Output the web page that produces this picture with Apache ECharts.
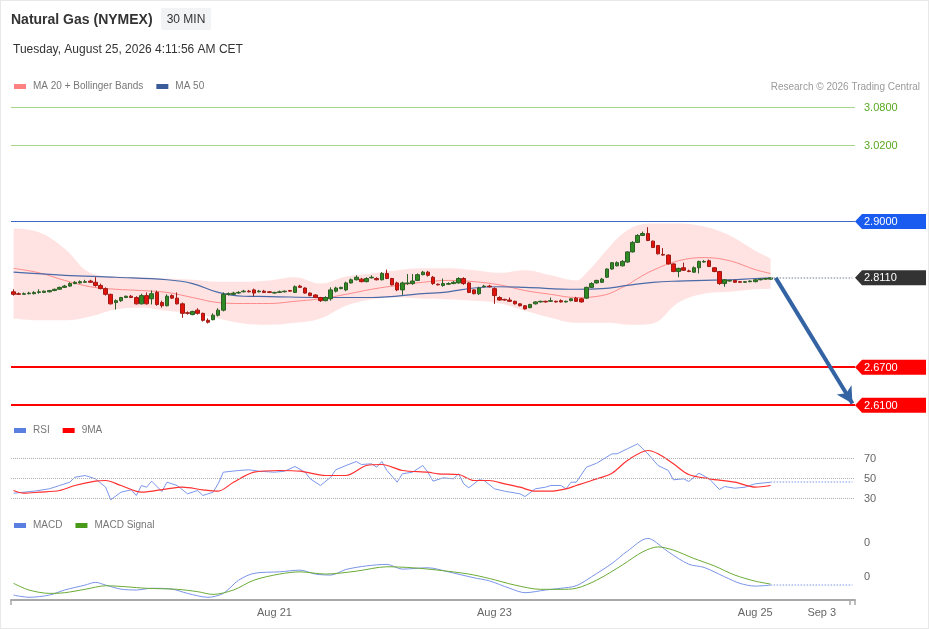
<!DOCTYPE html>
<html><head><meta charset="utf-8">
<script src="https://cdn.jsdelivr.net/npm/echarts@6/dist/echarts.min.js"></script>
<style>html,body{margin:0;padding:0;background:#fff}#c{width:929px;height:629px;box-shadow:inset 0 0 0 1px #e8e8e8}</style>
</head><body><div id="c"></div><script>
const N = 165;
const categories = Array.from({length: N}, (_, i) => String(i));
const xTickIdx = [51, 94, 145, 158];
const xTickText = ['Aug 21', 'Aug 23', 'Aug 25', 'Sep 3'];

const opens = [
2.789,2.786,2.785,2.786,2.786,2.788,2.788,2.789,2.791,2.793,
2.796,2.798,2.802,2.803,2.804,2.806,2.804,2.799,2.794,2.785,
2.772,2.775,2.780,2.782,2.780,2.770,2.783,2.778,2.788,2.772,
2.767,2.783,2.779,2.770,2.756,2.753,2.760,2.755,2.744,2.745,
2.752,2.760,2.785,2.785,2.787,2.789,2.790,2.792,2.789,2.790,
2.789,2.787,2.788,2.789,2.791,2.788,2.798,2.795,2.787,2.784,
2.780,2.775,2.778,2.790,2.794,2.792,2.803,2.808,2.809,2.805,
2.811,2.810,2.808,2.818,2.810,2.803,2.792,2.802,2.802,2.807,
2.816,2.820,2.812,2.801,2.799,2.801,2.802,2.803,2.810,2.803,
2.792,2.786,2.797,2.798,2.794,2.780,2.777,2.776,2.774,2.770,
2.767,2.764,2.770,2.773,2.774,2.774,2.774,2.775,2.773,2.775,
2.779,2.778,2.779,2.796,2.803,2.804,2.812,2.825,2.830,2.830,
2.836,2.852,2.867,2.878,2.881,2.869,2.862,2.848,2.847,2.833,
2.821,2.827,2.822,2.820,2.827,2.836,2.838,2.827,2.821,2.802,
2.806,2.807,2.805,2.804,2.805,2.805,2.808,2.809,2.809];
const closes = [
2.785,2.785,2.786,2.787,2.788,2.789,2.790,2.791,2.793,2.796,
2.798,2.802,2.804,2.805,2.805,2.804,2.799,2.794,2.785,2.770,
2.775,2.780,2.782,2.780,2.770,2.783,2.770,2.786,2.769,2.767,
2.782,2.779,2.770,2.755,2.755,2.758,2.755,2.744,2.741,2.752,
2.760,2.785,2.786,2.787,2.788,2.790,2.789,2.787,2.790,2.788,
2.788,2.788,2.789,2.790,2.790,2.797,2.796,2.787,2.783,2.780,
2.775,2.780,2.792,2.795,2.796,2.803,2.808,2.812,2.805,2.810,
2.812,2.808,2.818,2.810,2.800,2.792,2.803,2.803,2.806,2.816,
2.820,2.815,2.802,2.800,2.802,2.802,2.804,2.810,2.802,2.788,
2.786,2.795,2.798,2.797,2.783,2.776,2.776,2.774,2.770,2.767,
2.762,2.769,2.773,2.774,2.773,2.775,2.773,2.773,2.774,2.778,
2.774,2.773,2.796,2.802,2.807,2.809,2.825,2.835,2.835,2.837,
2.852,2.867,2.878,2.881,2.870,2.859,2.849,2.847,2.833,2.821,
2.826,2.823,2.821,2.827,2.837,2.837,2.829,2.821,2.802,2.808,
2.807,2.804,2.804,2.805,2.806,2.808,2.809,2.810,2.811];
const highs = [
2.793,2.788,2.788,2.789,2.790,2.793,2.791,2.792,2.794,2.797,
2.800,2.804,2.806,2.807,2.808,2.808,2.812,2.802,2.796,2.786,
2.777,2.781,2.783,2.784,2.782,2.786,2.788,2.791,2.791,2.775,
2.785,2.785,2.788,2.772,2.758,2.759,2.763,2.756,2.747,2.755,
2.763,2.788,2.788,2.789,2.790,2.792,2.792,2.794,2.792,2.792,
2.790,2.789,2.791,2.791,2.792,2.799,2.800,2.796,2.788,2.785,
2.781,2.782,2.796,2.797,2.797,2.805,2.810,2.815,2.811,2.812,
2.815,2.812,2.820,2.824,2.811,2.805,2.805,2.817,2.817,2.818,
2.822,2.822,2.814,2.802,2.810,2.804,2.806,2.812,2.812,2.804,
2.793,2.797,2.800,2.800,2.796,2.782,2.778,2.780,2.775,2.771,
2.768,2.770,2.774,2.775,2.775,2.780,2.775,2.777,2.775,2.779,
2.781,2.779,2.797,2.804,2.808,2.811,2.826,2.836,2.837,2.839,
2.853,2.869,2.880,2.884,2.891,2.870,2.863,2.858,2.848,2.834,
2.827,2.835,2.824,2.829,2.838,2.839,2.840,2.828,2.822,2.809,
2.808,2.808,2.806,2.806,2.807,2.809,2.810,2.811,2.812];
const lows = [
2.783,2.784,2.785,2.785,2.785,2.786,2.787,2.788,2.790,2.792,
2.795,2.797,2.801,2.802,2.803,2.803,2.797,2.793,2.783,2.769,
2.761,2.773,2.779,2.779,2.769,2.769,2.769,2.769,2.767,2.764,
2.766,2.778,2.769,2.748,2.753,2.752,2.753,2.742,2.739,2.744,
2.750,2.758,2.783,2.784,2.786,2.788,2.788,2.782,2.788,2.787,
2.787,2.786,2.787,2.788,2.789,2.787,2.795,2.786,2.782,2.779,
2.773,2.774,2.775,2.788,2.793,2.790,2.802,2.807,2.804,2.804,
2.810,2.807,2.807,2.809,2.799,2.790,2.784,2.800,2.800,2.806,
2.815,2.813,2.800,2.799,2.797,2.800,2.801,2.802,2.800,2.787,
2.785,2.784,2.796,2.796,2.770,2.775,2.775,2.773,2.769,2.766,
2.761,2.763,2.769,2.772,2.772,2.773,2.772,2.772,2.772,2.774,
2.773,2.772,2.778,2.795,2.802,2.803,2.811,2.824,2.829,2.829,
2.835,2.851,2.866,2.877,2.869,2.858,2.848,2.846,2.832,2.820,
2.812,2.822,2.820,2.819,2.818,2.835,2.828,2.820,2.800,2.797,
2.805,2.803,2.803,2.803,2.804,2.804,2.807,2.808,2.808];

const bbIdx   = [0,5,10,15,20,25,30,35,40,45,50,55,60,65,70,75,80,85,90,95,100,105,110,112,115,118,120,122,125,130,135,140,145,148];
const bbUpper = [2.889,2.883,2.857,2.819,2.813,2.812,2.810,2.808,2.805,2.805,2.807,2.812,2.802,2.813,2.818,2.823,2.826,2.826,2.823,2.819,2.823,2.815,2.807,2.819,2.846,2.873,2.886,2.894,2.897,2.897,2.892,2.878,2.854,2.842];
const bbLower = [2.747,2.744,2.744,2.750,2.761,2.764,2.759,2.755,2.747,2.739,2.737,2.740,2.747,2.767,2.777,2.780,2.778,2.777,2.775,2.771,2.759,2.748,2.740,2.740,2.740,2.739,2.737,2.737,2.739,2.772,2.786,2.789,2.793,2.794];

const ma20Idx = [0,5,10,15,20,25,30,35,40,45,50,55,60,65,70,75,80,85,90,95,100,105,110,115,120,122,125,130,135,140,145,148];
const ma20    = [2.826,2.819,2.807,2.797,2.793,2.791,2.788,2.780,2.772,2.7705,2.7705,2.774,2.778,2.785,2.793,2.799,2.804,2.807,2.805,2.800,2.791,2.785,2.780,2.783,2.800,2.810,2.823,2.838,2.843,2.838,2.824,2.818];

const ma50Idx = [0,10,20,30,35,40,45,50,60,70,80,85,90,95,100,110,115,120,125,130,135,140,145,148];
const ma50    = [2.820,2.815,2.812,2.808,2.802,2.788,2.782,2.7815,2.780,2.780,2.786,2.789,2.795,2.797,2.796,2.793,2.794,2.799,2.804,2.806,2.807,2.808,2.810,2.811];

const rsiIdx = [0,4,7,9,11,12,14,16,18,19,21,23,24,25,26,27,29,30,32,34,36,37,39,40,41,44,46,48,51,53,55,57,58,60,62,63,65,67,68,70,71,72,73,75,76,78,80,81,82,84,86,87,88,89,91,92,94,96,99,100,102,104,105,107,108,109,110,112,114,117,118,120,122,124,126,128,129,131,132,134,136,138,139,141,143,145,148];
const rsi    = [35.3,37.3,39.7,43,46.3,51.3,53,49.7,41.3,28.7,36.3,38.7,33,43,41.3,47.3,37,46.3,43,34.7,38,33,36.3,44.7,56.3,58,58.7,57.3,56.3,57.3,62,56.3,49.7,43,51.3,58.7,63,67,64,64.7,61.3,67,58,46.3,54.7,56.3,63,56.3,47.3,50.7,49.7,54.7,44.7,40.7,48.7,48,39.7,37.3,34.7,32,39.7,41.3,43,43,39.7,46.3,46.3,61.3,65.3,74.7,74.7,79.7,84.7,74.7,63,58,48.7,49.7,47,55.3,49.7,39,42,40.3,41.3,44.7,46.3];

const rsiMaIdx = [0,2,5,9,12,16,18,21,25,30,33,37,40,43,47,52,56,61,65,69,72,76,81,83,87,90,93,96,99,102,105,108,110,113,117,120,124,126,129,132,136,141,145,148];
const rsiMa    = [38,35.3,36.3,38,43,47.3,48,43,36.3,39.7,41.3,38.7,37.3,46.3,56.3,58,57.3,53,53,63,64,58,56.3,54.7,54,48,48,44.7,41.3,37.3,37.3,39.7,43,48,55.3,68,78,74.7,64.7,54,49.7,46.3,41.3,43];

const macdIdx = [0,3,7,10,14,16,18,21,24,27,31,34,38,41,44,47,52,56,59,62,65,69,73,76,81,85,90,93,97,100,104,107,110,113,117,120,124,125,128,132,135,139,142,145,148];
const macd    = [-0.0106,-0.0119,-0.0106,-0.0076,-0.0047,-0.0031,-0.0047,-0.0071,-0.0076,-0.0066,-0.0071,-0.0096,-0.0119,-0.0096,-0.0018,0.0022,0.0031,0.0041,0.0018,0.0012,0.0045,0.0066,0.0075,0.0047,0.0055,0.0031,-0.0004,-0.0022,-0.0066,-0.0092,-0.0076,-0.0066,-0.0051,0.0002,0.0081,0.0153,0.0228,0.0218,0.0149,0.0076,0.0057,0.0002,-0.0037,-0.0053,-0.0047];

const sigIdx = [0,3,7,10,14,18,22,26,32,36,39,43,47,52,56,61,67,73,78,83,89,93,98,103,107,110,114,119,123,126,129,133,137,141,145,148];
const sig    = [-0.0037,-0.0076,-0.0096,-0.0092,-0.0072,-0.0051,-0.0057,-0.0066,-0.0072,-0.0086,-0.0102,-0.0076,-0.0018,0.0018,0.0031,0.0018,0.0035,0.0061,0.0055,0.0041,0.0018,-0.0008,-0.0047,-0.0072,-0.0072,-0.0066,-0.0018,0.0071,0.0149,0.0178,0.0159,0.0110,0.0066,0.0012,-0.0024,-0.0041];

const levelR2 = 3.08, levelR1 = 3.02, levelPivot = 2.90, lastPrice = 2.811, levelS1 = 2.67, levelS2 = 2.61;
const arrowTarget = 2.6126;

const FONT = '"Liberation Sans", Arial, sans-serif';
const pairs = (ix, v) => ix.map((x, k) => [x, v[k]]);
const lastIdx = opens.length - 1;

const chart = echarts.init(document.getElementById('c'));
const legendBase = {icon: 'rect', itemWidth: 12, itemHeight: 5, itemGap: 13, padding: 0, selectedMode: false,
  textStyle: {color: '#777', fontSize: 10, fontFamily: FONT, padding: [0, 0, 0, 2]}};

const option = {
  animation: false,
  textStyle: {fontFamily: FONT},
  legend: [
    Object.assign({left: 14, top: 81.5, data: ['MA 20 + Bollinger Bands', 'MA 50']}, legendBase),
    Object.assign({left: 14, top: 425.5, data: ['RSI', '9MA']}, legendBase),
    Object.assign({left: 14, top: 520.5, data: ['MACD', 'MACD Signal']}, legendBase)
  ],
  grid: [
    {left: 11, right: 74, top: 101.17, height: 310.33},
    {left: 11, right: 74, top: 438.5, height: 80},
    {left: 11, right: 74, top: 533, height: 67}
  ],
  xAxis: [
    {type: 'category', gridIndex: 0, data: categories, show: false},
    {type: 'category', gridIndex: 1, data: categories, show: false},
    {type: 'category', gridIndex: 2, data: categories,
      axisLine: {onZero: false, lineStyle: {color: '#a8a8a8', width: 2}},
      axisTick: {show: true, length: 5, lineStyle: {color: '#a8a8a8', width: 1.5}, interval: (i) => i === 0 || i === N - 1},
      axisLabel: {color: '#666', fontSize: 11, margin: 7,
        interval: (i) => xTickIdx.indexOf(i) >= 0,
        formatter: (v, i) => { const k = xTickIdx.indexOf(+v); return k >= 0 ? xTickText[k] : ''; }}}
  ],
  yAxis: [
    {type: 'value', gridIndex: 0, min: 2.60, max: 3.09, show: false},
    {type: 'value', gridIndex: 1, min: 10, max: 90, position: 'right',
      axisLine: {show: false}, axisTick: {show: false}, splitLine: {show: false},
      axisLabel: {customValues: [30, 50, 70], color: '#666', fontSize: 11, margin: 9}},
    {type: 'value', gridIndex: 2, min: -0.0135, max: 0.026, position: 'right',
      axisLine: {show: false}, axisTick: {show: false}, splitLine: {show: false},
      axisLabel: {customValues: [0, 0.02], formatter: () => '0', color: '#666', fontSize: 11, margin: 9}}
  ],
  series: [
    {type: 'line', name: 'bbLow', xAxisIndex: 0, yAxisIndex: 0, stack: 'bb', smooth: 0.4, symbol: 'none', silent: true,
      data: pairs(bbIdx, bbLower), lineStyle: {opacity: 0}, z: 1},
    {type: 'line', name: 'bbBand', xAxisIndex: 0, yAxisIndex: 0, stack: 'bb', smooth: 0.4, symbol: 'none', silent: true,
      data: bbIdx.map((x, k) => [x, +(bbUpper[k] - bbLower[k]).toFixed(4)]),
      lineStyle: {opacity: 0}, areaStyle: {color: '#ffe3e3', opacity: 1}, z: 1},
    {type: 'line', name: 'MA 20 + Bollinger Bands', xAxisIndex: 0, yAxisIndex: 0, smooth: 0.4, symbol: 'none',
      data: pairs(ma20Idx, ma20), itemStyle: {color: '#ff8080'}, lineStyle: {color: '#ff8a8a', width: 1}, z: 2},
    {type: 'line', name: 'MA 50', xAxisIndex: 0, yAxisIndex: 0, smooth: 0.4, symbol: 'none',
      data: pairs(ma50Idx, ma50), itemStyle: {color: '#3a5a9a'}, lineStyle: {color: '#4a6aa8', width: 1.2}, z: 2},
    {type: 'candlestick', name: 'price', xAxisIndex: 0, yAxisIndex: 0, barWidth: 4, z: 3,
      data: opens.map((o, i) => [o, closes[i], lows[i], highs[i]]),
      itemStyle: {color: '#2f8a24', color0: '#e3120b', borderColor: '#2d5e25', borderColor0: '#9e1b15', borderWidth: 1},
      markLine: {silent: true, symbol: 'none', label: {show: false},
        data: [
          {yAxis: levelR2, lineStyle: {color: '#a9d48c', width: 1, type: 'solid'}},
          {yAxis: levelR1, lineStyle: {color: '#a9d48c', width: 1, type: 'solid'}},
          {yAxis: levelPivot, lineStyle: {color: '#3f68c8', width: 1, type: 'solid'}},
          {yAxis: levelS1, lineStyle: {color: '#ff0000', width: 2, type: 'solid'}},
          {yAxis: levelS2, lineStyle: {color: '#ff0000', width: 2, type: 'solid'}},
          [{coord: [lastIdx, lastPrice]}, {coord: [N - 1, lastPrice]}],
          [{coord: [lastIdx + 1, lastPrice], symbol: 'none'},
           {coord: [N - 1, arrowTarget], symbol: 'arrow', symbolSize: [13, 16]}]
        ].map((d, k) => k === 5 ? d.map(p => Object.assign(p, {lineStyle: {color: '#a0a8b8', width: 1.5, type: 'dotted'}}))
                     : k === 6 ? d.map(p => Object.assign(p, {lineStyle: {color: '#3463a3', width: 4, type: 'solid'}, itemStyle: {color: '#3463a3'}}))
                     : d)
      }},
    {type: 'line', name: 'RSI', xAxisIndex: 1, yAxisIndex: 1, symbol: 'none',
      data: pairs(rsiIdx, rsi), itemStyle: {color: '#5b7fe0'}, lineStyle: {color: '#7a96ea', width: 1},
      markLine: {silent: true, symbol: 'none', label: {show: false},
        data: [
          {yAxis: 70, lineStyle: {color: '#b0b0b0', type: 'dotted', width: 1}},
          {yAxis: 50, lineStyle: {color: '#b0b0b0', type: 'dotted', width: 1}},
          {yAxis: 30, lineStyle: {color: '#b0b0b0', type: 'dotted', width: 1}},
          [{coord: [lastIdx, rsi[rsi.length - 1]]}, {coord: [N - 1, rsi[rsi.length - 1]]}]
        ].map((d, k) => k === 3 ? d.map(p => Object.assign(p, {lineStyle: {color: '#a8baf0', type: 'dotted', width: 1.5}})) : d)}},
    {type: 'line', name: '9MA', xAxisIndex: 1, yAxisIndex: 1, symbol: 'none', smooth: 0.3,
      data: pairs(rsiMaIdx, rsiMa), itemStyle: {color: '#ff0000'}, lineStyle: {color: '#ff3030', width: 1.2}},
    {type: 'line', name: 'MACD', xAxisIndex: 2, yAxisIndex: 2, symbol: 'none', smooth: 0.3,
      data: pairs(macdIdx, macd), itemStyle: {color: '#5b7fe0'}, lineStyle: {color: '#7a93e8', width: 1},
      markLine: {silent: true, symbol: 'none', label: {show: false},
        data: [[{coord: [lastIdx, macd[macd.length - 1]]}, {coord: [N - 1, macd[macd.length - 1]]}]]
          .map(d => d.map(p => Object.assign(p, {lineStyle: {color: '#a8baf0', type: 'dotted', width: 1.5}})))}},
    {type: 'line', name: 'MACD Signal', xAxisIndex: 2, yAxisIndex: 2, symbol: 'none', smooth: 0.3,
      data: pairs(sigIdx, sig), itemStyle: {color: '#4a9a1a'}, lineStyle: {color: '#6aab35', width: 1}}
  ]
};
chart.setOption(option);

function tag(id, value, color, text) {
  const y = chart.convertToPixel({yAxisIndex: 0}, value);
  return {type: 'group', id: id, children: [
    {type: 'polygon', shape: {points: [[855, y], [862, y - 7.5], [926, y - 7.5], [926, y + 7.5], [862, y + 7.5]]}, style: {fill: color}},
    {type: 'text', x: 864, y: y + 0.5, style: {text: text, fill: '#fff', fontSize: 11, fontFamily: FONT, verticalAlign: 'middle'}}
  ]};
}
function greenText(id, value, text) {
  const y = chart.convertToPixel({yAxisIndex: 0}, value);
  return {type: 'text', id: id, x: 864, y: y + 0.5, style: {text: text, fill: '#5aa821', fontSize: 11, fontFamily: FONT, verticalAlign: 'middle'}};
}
chart.setOption({graphic: {elements: [
  {type: 'text', id: 'title', x: 11, y: 20, style: {text: 'Natural Gas (NYMEX)', fill: '#333', font: 'bold 14px ' + FONT, verticalAlign: 'middle'}},
  {type: 'rect', id: 'tfbox', shape: {x: 161, y: 8, width: 50, height: 22, r: 2}, style: {fill: '#f1f3f5'}},
  {type: 'text', id: 'tf', x: 186, y: 19.5, style: {text: '30 MIN', fill: '#333', fontSize: 12, fontFamily: FONT, align: 'center', verticalAlign: 'middle'}},
  {type: 'text', id: 'date', x: 13, y: 49.5, style: {text: 'Tuesday, August 25, 2026 4:11:56 AM CET', fill: '#333', fontSize: 12, fontFamily: FONT, verticalAlign: 'middle'}},
  {type: 'text', id: 'credit', x: 920, y: 87, style: {text: 'Research \u00a9 2026 Trading Central', fill: '#9a9a9a', fontSize: 10, fontFamily: FONT, align: 'right', verticalAlign: 'middle'}},
  greenText('r2', levelR2, levelR2.toFixed(4)),
  greenText('r1', levelR1, levelR1.toFixed(4)),
  tag('pv', levelPivot, '#1a5cf0', levelPivot.toFixed(4)),
  tag('lp', lastPrice, '#333333', lastPrice.toFixed(4)),
  tag('s1', levelS1, '#ff0000', levelS1.toFixed(4)),
  tag('s2', levelS2, '#ff0000', levelS2.toFixed(4))
]}});
</script></body></html>
